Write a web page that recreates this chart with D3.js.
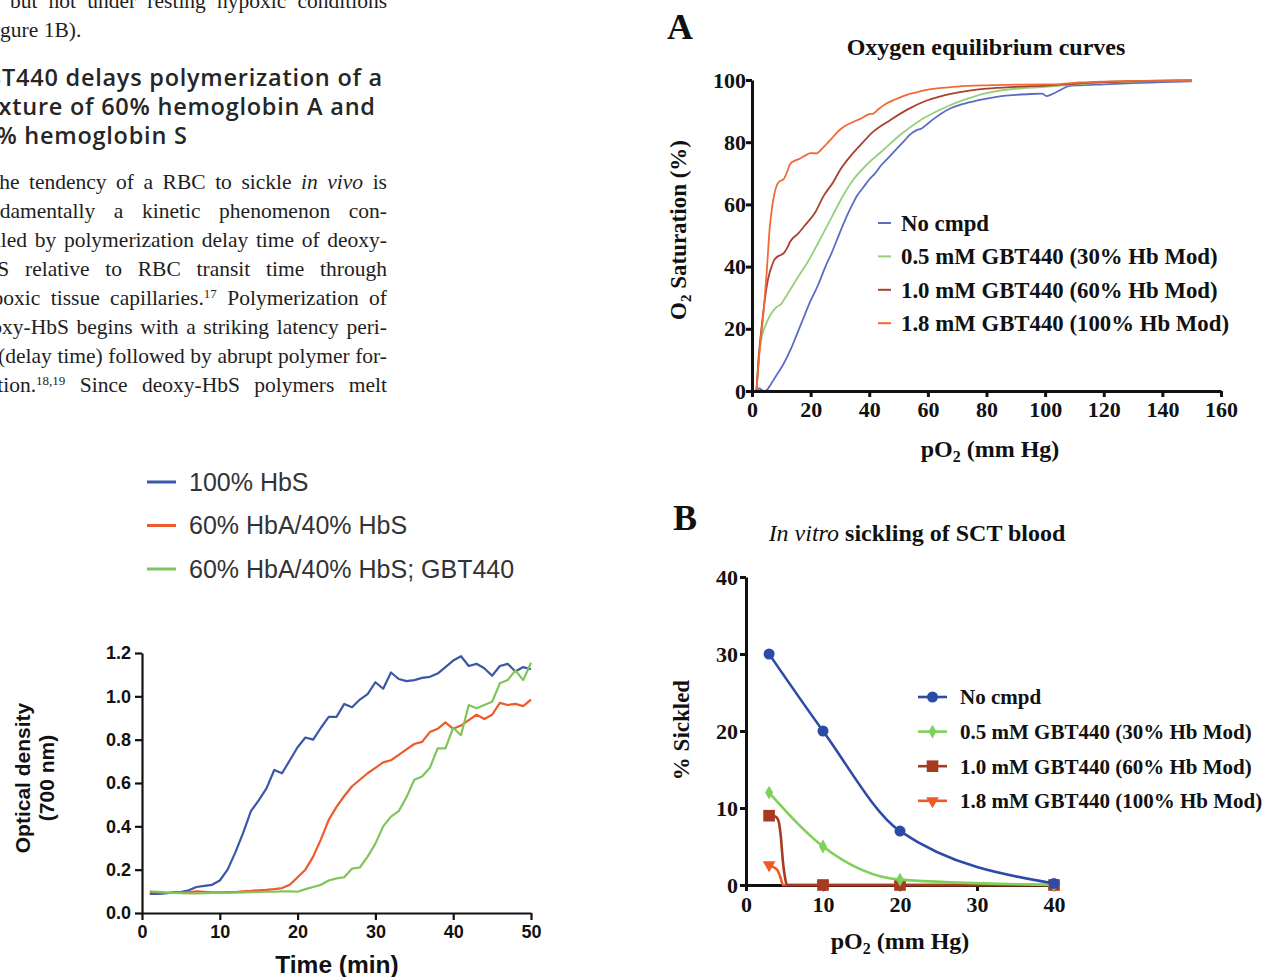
<!DOCTYPE html>
<html lang="en">
<head>
<meta charset="UTF-8">
<title>GBT440 figure page</title>
<script src="https://d3js.org/d3.v7.min.js"></script>
<style>
  body { margin: 0; background: #fff; overflow: hidden; }
  svg { display: block; }
</style>
</head>
<body>
<svg id="page" width="1263" height="977"></svg>
<script>
// ---- panel C (bottom left): turbidity vs time ----
const timeMin = [1,2,3,4,5,6,7,8,9,10,11,12,13,14,15,16,17,18,19,20,21,22,23,24,25,
                 26,27,28,29,30,31,32,33,34,35,36,37,38,39,40,41,42,43,44,45,46,47,48,49,50];
const odHbS = [0.088,0.088,0.09,0.095,0.097,0.105,0.12,0.125,0.13,0.15,0.2,0.28,0.37,0.47,0.52,
               0.575,0.66,0.645,0.705,0.765,0.81,0.8,0.855,0.905,0.905,0.965,0.95,0.985,1.01,1.065,
               1.035,1.11,1.08,1.07,1.075,1.085,1.09,1.105,1.135,1.165,1.185,1.14,1.15,1.13,1.095,
               1.14,1.15,1.115,1.135,1.125];
const odMix = [0.097,0.095,0.093,0.093,0.095,0.095,0.1,0.098,0.095,0.095,0.097,0.097,0.1,0.102,0.105,
               0.107,0.11,0.115,0.13,0.165,0.2,0.26,0.34,0.43,0.49,0.54,0.585,0.615,0.645,0.67,
               0.695,0.705,0.73,0.755,0.78,0.79,0.835,0.85,0.88,0.85,0.865,0.89,0.915,0.895,0.915,
               0.97,0.96,0.965,0.955,0.985];
const odMixGbt = [0.1,0.098,0.095,0.093,0.092,0.09,0.09,0.092,0.093,0.093,0.093,0.094,0.095,0.096,0.097,
                  0.098,0.098,0.1,0.1,0.098,0.11,0.12,0.13,0.15,0.16,0.165,0.205,0.21,0.26,0.32,
                  0.4,0.445,0.47,0.535,0.615,0.63,0.67,0.76,0.76,0.855,0.82,0.96,0.945,0.96,0.975,
                  1.06,1.075,1.12,1.075,1.155];
const legendC = ["100% HbS", "60% HbA/40% HbS", "60% HbA/40% HbS; GBT440"];
const colorsC = ["#3b57a7", "#ef5a2a", "#80c45c"];

// ---- panel A: oxygen equilibrium curves, [pO2, % saturation] ----
const oecNoCmpd = [[1.5,0.3],[2.5,0.8],[3.5,0.2],[4.5,0],[6,1.5],[7.5,3.8],[9,6],[10.5,8.3],[12,11],[13.5,14],
  [15,17.5],[16.5,21],[18,24.5],[19.5,28],[21,31],[22.5,34],[24,37.5],[25.5,41],[27,44],[28.5,47.5],
  [30,51],[32,55.5],[34,59.5],[36,63],[38,65.5],[40,68],[42,70],[44,72.5],[46,74.5],[48,76.5],
  [50,78.5],[52,80.5],[54,82.5],[56,83.8],[58,84.5],[60,86],[62,87.5],[65,89.5],[68,91],[71,92],
  [75,93],[80,94],[85,94.8],[90,95.2],[95,95.5],[99,95.6],[100.5,94.8],[102,95.3],[104,96.2],[106,97.2],
  [108,98],[112,98.3],[120,98.6],[130,99],[140,99.3],[150,99.6]];
const oec05 = [[1.5,0],[2,6],[2.7,14],[3.5,18],[4.4,20.7],[5,22],[6,24],[7,25.5],[8.4,27],[10,28],
  [11,29.5],[13,32.5],[15.8,36.8],[18.7,41],[21,44.8],[24.3,50.7],[27.8,57],[31.2,63],[34.6,68],[39.1,72.7],
  [44.8,77.5],[50.5,82.3],[57.3,87],[66.4,91.4],[72,93.5],[80,95.8],[90,97.2],[100,97.8],[110,98.6],
  [120,99.2],[130,99.5],[140,99.7],[150,99.8]];
const oec10 = [[1.5,0],[2.2,10],[3.3,20.7],[4.2,28],[5,33.5],[6,38],[6.7,40],[7.5,42],[8.4,43],[10,43.8],
  [11,44.5],[12,46],[13,48],[15.8,50.7],[18.7,54],[21.5,57.3],[24.3,62.5],[27.8,67.3],[30,71],[33.4,75.3],
  [36.9,79],[41.4,83.4],[47,87],[52.8,90.4],[59.6,93.4],[68.7,95.7],[80,97.2],[90,97.8],[100,98.2],
  [110,98.8],[120,99.3],[130,99.6],[140,99.8],[150,99.9]];
const oec18 = [[1.5,0],[2.5,12],[3.9,25],[5,38],[6.1,53],[7,60],[8.4,66],[9.5,67.5],[10.7,68],[12,70.5],
  [13,73],[14.5,74],[15.8,74.5],[18.7,76],[20,76.5],[22,76.4],[24,78],[25.5,79.5],[27,81],[28.9,83],
  [30,84],[32.3,85.5],[34.5,86.5],[36.9,87.5],[40,89],[41.4,89.2],[43,90.5],[46,92.5],[49,93.8],[52.8,95.2],
  [56,96],[59.6,96.8],[65,97.5],[70,97.9],[80,98.3],[90,98.5],[100,98.6],[105,98.7],[112,99.2],[120,99.5],
  [130,99.7],[140,99.8],[150,100]];
const legendAB = ["No cmpd", "0.5 mM GBT440 (30% Hb Mod)", "1.0 mM GBT440 (60% Hb Mod)", "1.8 mM GBT440 (100% Hb Mod)"];
const colorsA = ["#5b6cc4", "#96d07a", "#a8412f", "#f06a38"];

// ---- panel B: in vitro sickling ----
const pO2B = [3, 10, 20, 40];
const sickNoCmpd = [30, 20, 7, 0.2];
const sick05 = [12, 5, 0.7, 0];
const sick10 = [9, 0, 0, 0];
const sick18 = [2.6, 0, 0, 0];
// fitted curves for the two high doses (they drop to zero before pO2 10)
const fit10 = [[3,9],[3.8,8.9],[4.2,8.4],[4.5,6.5],[4.8,3],[5.1,0.8],[5.3,0],[10,0],[20,0],[40,0]];
const fit18 = [[3,2.6],[3.6,2.3],[4.1,1.9],[4.5,0.9],[4.8,0],[10,0],[20,0],[40,0]];
const colorsB = ["#2b4ba6", "#7fd157", "#a83a22", "#f05a22"];

const SERIF = '"Liberation Serif", "Times New Roman", serif';
const SANS = '"Liberation Sans", Arial, sans-serif';

const svg = d3.select("#page");

// ---------- article text (left column) ----------
const textG = svg.append("g").attr("fill", "#1e1e1e");

const bodyLines = [
  {parts: [["but not under resting hypoxic conditions"]], x: 10, y: 8, justify: true},
  {parts: [["(Figure 1B)."]], x: -25, y: 37, justify: false},
  {parts: [["The tendency of a RBC to sickle "], ["in vivo", "i"], [" is"]], x: -14, y: 189, justify: true},
  {parts: [["fundamentally a kinetic phenomenon con-"]], x: -29, y: 218, justify: true},
  {parts: [["trolled by polymerization delay time of deoxy-"]], x: -29, y: 247, justify: true},
  {parts: [["HbS relative to RBC transit time through"]], x: -29, y: 276, justify: true},
  {parts: [["hypoxic tissue capillaries."], ["17", "sup"], [" Polymerization of"]], x: -29, y: 305, justify: true},
  {parts: [["deoxy-HbS begins with a striking latency peri-"]], x: -29, y: 334, justify: true},
  {parts: [["od (delay time) followed by abrupt polymer for-"]], x: -29, y: 363, justify: true},
  {parts: [["mation."], ["18,19", "sup"], [" Since deoxy-HbS polymers melt"]], x: -29, y: 392, justify: true}
];
const rightEdge = 387;

bodyLines.forEach(line => {
  const t = textG.append("text")
      .attr("x", line.x).attr("y", line.y)
      .attr("font-family", SERIF).attr("font-size", 21.5);
  line.parts.forEach(([str, kind]) => {
    const ts = t.append("tspan").text(str);
    if (kind === "i") ts.attr("font-style", "italic");
    if (kind === "sup") ts.attr("font-size", 13).attr("baseline-shift", "super");
  });
  if (line.justify) {
    const full = line.parts.map(p => p[0]).join("");
    const spaces = (full.match(/ /g) || []).length;
    const len = t.node().getComputedTextLength();
    t.attr("word-spacing", (rightEdge - line.x - len) / spaces);
  }
});

// section heading: ragged right, first line ends near x = 383
const heading = ["GBT440 delays polymerization of a", "mixture of 60% hemoglobin A and", "40% hemoglobin S"];
const headX = -32;
const heads = textG.selectAll(".head").data(heading).join("text")
    .attr("class", "head")
    .attr("x", headX).attr("y", (d, i) => 86 + i * 29)
    .attr("font-family", '"Open Sans", "Noto Sans", sans-serif')
    .attr("font-weight", 600).attr("font-size", 23.5).attr("fill", "#262626")
    .text(d => d);
const firstLen = heads.node().getComputedTextLength();
heads.attr("letter-spacing", (383 - headX - firstLen) / heading[0].length);

// ---------- panel C ----------
const xC = d3.scaleLinear().domain([0, 50]).range([142, 531]);
const yC = d3.scaleLinear().domain([0, 1.2]).range([913, 653]);
const gC = svg.append("g");

const axC = gC.append("g").attr("transform", `translate(0,${yC(0)})`)
    .call(d3.axisBottom(xC).tickValues([0, 10, 20, 30, 40, 50]).tickSize(7).tickSizeOuter(0).tickPadding(5));
const ayC = gC.append("g").attr("transform", `translate(${xC(0)},0)`)
    .call(d3.axisLeft(yC).tickValues([0, 0.2, 0.4, 0.6, 0.8, 1.0, 1.2]).tickFormat(d3.format(".1f"))
      .tickSize(7).tickSizeOuter(0).tickPadding(4));
[axC, ayC].forEach(g => {
  g.attr("font-family", SANS).attr("font-size", 18).attr("font-weight", "bold");
  g.selectAll("path, line").attr("stroke", "#111").attr("stroke-width", 2.2);
  g.selectAll("text").attr("fill", "#111");
});

const lineC = d3.line().x(d => xC(d[0])).y(d => yC(d[1]));
[odHbS, odMix, odMixGbt].forEach((vals, i) => {
  gC.append("path")
      .datum(timeMin.map((t, k) => [t, vals[k]]))
      .attr("fill", "none").attr("stroke", colorsC[i]).attr("stroke-width", 2.2)
      .attr("stroke-linejoin", "round")
      .attr("d", lineC);
});

gC.append("text").attr("x", 337).attr("y", 973).attr("text-anchor", "middle")
    .attr("font-family", SANS).attr("font-weight", "bold").attr("font-size", 24.5).attr("fill", "#111")
    .text("Time (min)");
[["Optical density", 30], ["(700 nm)", 54]].forEach(([s, bx]) => {
  gC.append("text").attr("transform", `translate(${bx},778) rotate(-90)`).attr("text-anchor", "middle")
      .attr("font-family", SANS).attr("font-weight", "bold").attr("font-size", 21).attr("fill", "#111")
      .text(s);
});

const legC = gC.selectAll(".legc").data(legendC).join("g").attr("class", "legc")
    .attr("transform", (d, i) => `translate(147,${482 + i * 43.5})`);
legC.append("line").attr("x1", 0).attr("x2", 29).attr("stroke", (d, i) => colorsC[i]).attr("stroke-width", 3);
legC.append("text").attr("x", 42).attr("dy", "0.35em")
    .attr("font-family", SANS).attr("font-size", 25).attr("fill", "#333").text(d => d);

// ---------- panel A ----------
const xA = d3.scaleLinear().domain([0, 160]).range([752, 1221]);
const yA = d3.scaleLinear().domain([0, 100]).range([391, 80]);
const gA = svg.append("g");

const lineA = d3.line().x(d => xA(d[0])).y(d => yA(d[1])).curve(d3.curveMonotoneX);
[oecNoCmpd, oec05, oec10, oec18].forEach((pts, i) => {
  gA.append("path").datum(pts)
      .attr("fill", "none").attr("stroke", colorsA[i]).attr("stroke-width", 1.8)
      .attr("d", lineA);
});

const axA = gA.append("g").attr("transform", `translate(0,${yA(0)})`)
    .call(d3.axisBottom(xA).tickValues(d3.range(0, 161, 20)).tickSize(6).tickSizeOuter(0).tickPadding(4));
const ayA = gA.append("g").attr("transform", `translate(${xA(0)},0)`)
    .call(d3.axisLeft(yA).tickValues(d3.range(0, 101, 20)).tickSize(6).tickSizeOuter(0).tickPadding(0));
[axA, ayA].forEach(g => {
  g.attr("font-family", SERIF).attr("font-size", 22).attr("font-weight", "bold");
  g.selectAll("path, line").attr("stroke", "#111").attr("stroke-width", 3);
  g.selectAll("text").attr("fill", "#111");
});

gA.append("text").attr("x", 667).attr("y", 39)
    .attr("font-family", SERIF).attr("font-weight", "bold").attr("font-size", 36).attr("fill", "#111").text("A");
gA.append("text").attr("x", 986).attr("y", 55).attr("text-anchor", "middle")
    .attr("font-family", SERIF).attr("font-weight", "bold").attr("font-size", 24).attr("fill", "#111")
    .text("Oxygen equilibrium curves");

function pO2Label(g, x, y) {
  const t = g.append("text").attr("x", x).attr("y", y).attr("text-anchor", "middle")
      .attr("font-family", SERIF).attr("font-weight", "bold").attr("font-size", 24).attr("fill", "#111");
  t.append("tspan").text("pO");
  t.append("tspan").attr("font-size", 16).attr("dy", 5).text("2");
  t.append("tspan").attr("dy", -5).text(" (mm Hg)");
}
pO2Label(gA, 990, 457);

const yTitleA = gA.append("text").attr("transform", "translate(686,230) rotate(-90)").attr("text-anchor", "middle")
    .attr("font-family", SERIF).attr("font-weight", "bold").attr("font-size", 23).attr("fill", "#111");
yTitleA.append("tspan").text("O");
yTitleA.append("tspan").attr("font-size", 15).attr("dy", 5).text("2");
yTitleA.append("tspan").attr("dy", -5).text(" Saturation (%)");

const legA = gA.selectAll(".lega").data(legendAB).join("g").attr("class", "lega")
    .attr("transform", (d, i) => `translate(878,${223 + i * 33.4})`);
legA.append("line").attr("x1", 0).attr("x2", 13).attr("stroke", (d, i) => colorsA[i]).attr("stroke-width", 2);
legA.append("text").attr("x", 23).attr("dy", "0.35em")
    .attr("font-family", SERIF).attr("font-weight", "bold").attr("font-size", 22.8).attr("fill", "#111").text(d => d);

// ---------- panel B ----------
const xB = d3.scaleLinear().domain([0, 40]).range([746, 1054]);
const yB = d3.scaleLinear().domain([0, 40]).range([885, 577]);
const gB = svg.append("g");

const axB = gB.append("g").attr("transform", `translate(0,${yB(0)})`)
    .call(d3.axisBottom(xB).tickValues([0, 10, 20, 30, 40]).tickSize(6).tickSizeOuter(0).tickPadding(5));
const ayB = gB.append("g").attr("transform", `translate(${xB(0)},0)`)
    .call(d3.axisLeft(yB).tickValues([0, 10, 20, 30, 40]).tickSize(6).tickSizeOuter(0).tickPadding(2));
[axB, ayB].forEach(g => {
  g.attr("font-family", SERIF).attr("font-size", 22).attr("font-weight", "bold");
  g.selectAll("path, line").attr("stroke", "#111").attr("stroke-width", 3);
  g.selectAll("text").attr("fill", "#111");
});

const lineB = d3.line().x(d => xB(d[0])).y(d => yB(d[1])).curve(d3.curveMonotoneX);
const symbolsB = [
  {type: d3.symbolCircle, size: 95, rot: 0},
  {type: d3.symbolDiamond, size: 55, rot: 0},
  {type: d3.symbolSquare, size: 135, rot: 0},
  {type: d3.symbolTriangle, size: 70, rot: 180}
];
const seriesB = [
  {vals: sickNoCmpd, curve: pO2B.map((p, k) => [p, sickNoCmpd[k]])},
  {vals: sick05, curve: pO2B.map((p, k) => [p, sick05[k]])},
  {vals: sick10, curve: fit10},
  {vals: sick18, curve: fit18}
];
// draw high-dose series first so blue sits on top
[3, 2, 1, 0].forEach(i => {
  const s = seriesB[i];
  gB.append("path").datum(s.curve)
      .attr("fill", "none").attr("stroke", colorsB[i]).attr("stroke-width", 2.6)
      .attr("d", lineB);
  gB.selectAll(null).data(pO2B.map((p, k) => [p, s.vals[k]])).join("path")
      .attr("transform", d => `translate(${xB(d[0])},${yB(d[1])}) rotate(${symbolsB[i].rot})`)
      .attr("d", d3.symbol(symbolsB[i].type, symbolsB[i].size))
      .attr("fill", colorsB[i]);
});

gB.append("text").attr("x", 673).attr("y", 530)
    .attr("font-family", SERIF).attr("font-weight", "bold").attr("font-size", 36).attr("fill", "#111").text("B");
const titleB = gB.append("text").attr("x", 917).attr("y", 541).attr("text-anchor", "middle")
    .attr("font-family", SERIF).attr("font-size", 24).attr("fill", "#111");
titleB.append("tspan").attr("font-style", "italic").text("In vitro");
titleB.append("tspan").attr("font-weight", "bold").text(" sickling of SCT blood");

pO2Label(gB, 900, 949);
gB.append("text").attr("transform", "translate(689,730) rotate(-90)").attr("text-anchor", "middle")
    .attr("font-family", SERIF).attr("font-weight", "bold").attr("font-size", 23).attr("fill", "#111")
    .text("% Sickled");

const legB = gB.selectAll(".legb").data(legendAB).join("g").attr("class", "legb")
    .attr("transform", (d, i) => `translate(918,${697 + i * 34.6})`);
legB.append("line").attr("x1", 0).attr("x2", 29).attr("stroke", (d, i) => colorsB[i]).attr("stroke-width", 2.6);
legB.append("path")
    .attr("transform", (d, i) => `translate(14.5,0) rotate(${symbolsB[i].rot})`)
    .attr("d", (d, i) => d3.symbol(symbolsB[i].type, symbolsB[i].size)())
    .attr("fill", (d, i) => colorsB[i]);
legB.append("text").attr("x", 42).attr("dy", "0.35em")
    .attr("font-family", SERIF).attr("font-weight", "bold").attr("font-size", 21).attr("fill", "#111").text(d => d);
</script>
</body>
</html>
